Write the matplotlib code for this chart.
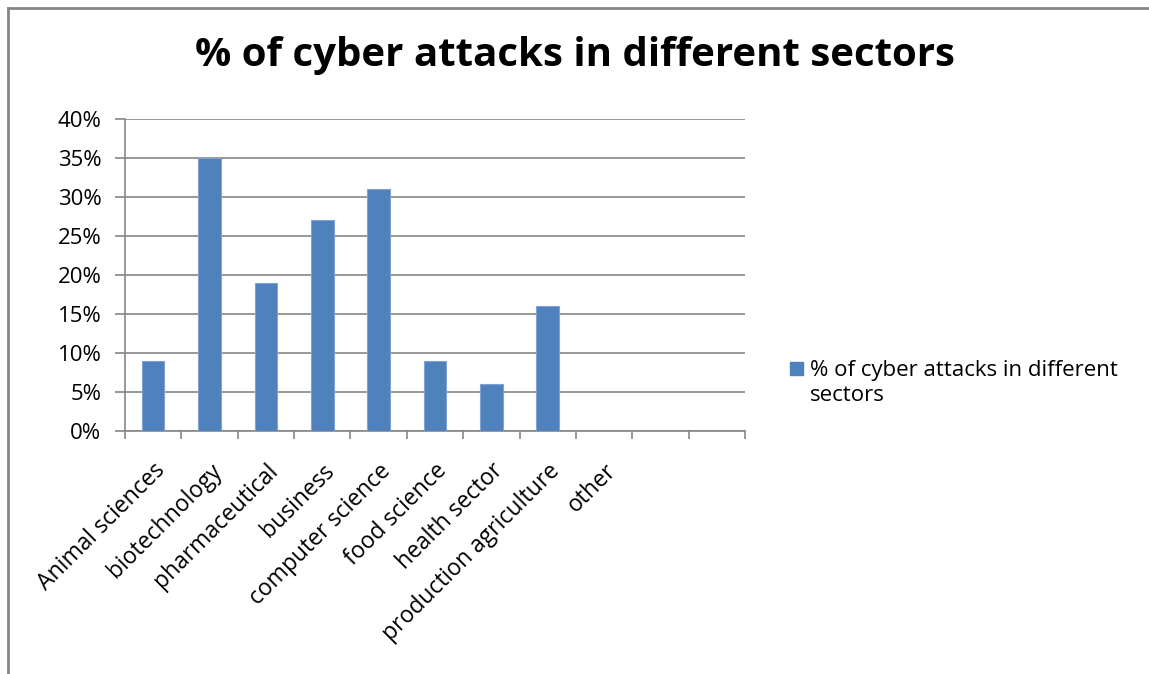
import matplotlib.pyplot as plt
from matplotlib.lines import Line2D
from matplotlib.ticker import FuncFormatter

categories = ["Animal sciences", "biotechnology", "pharmaceutical", "business",
              "computer science", "food science", "health sector",
              "production agriculture", "other", "", ""]
values = [9, 35, 19, 27, 31, 9, 6, 16, 0, 0, 0]
series_name = "% of cyber attacks in different\nsectors"
title = "% of cyber attacks in different sectors"

plt.rcParams['font.family'] = ['Open Sans', 'DejaVu Sans']

fig = plt.figure(figsize=(11.49, 6.74), dpi=100)
ax = fig.add_axes([0.1088, 0.3605, 0.5396, 0.4629])

x = range(len(categories))
ax.bar(x, values, width=0.4, color='#4F81BD', edgecolor='#7EA3D4',
       linewidth=0.8, zorder=3)

ax.set_xlim(-0.5, len(categories) - 0.5)
ax.set_ylim(0, 40)
ax.set_yticks(range(0, 41, 5))
ax.yaxis.set_major_formatter(FuncFormatter(lambda v, p: f"{v:.0f}%"))
ax.yaxis.grid(True, color='#868686', linewidth=1.2, zorder=0)

ax.set_xticks([i - 0.5 for i in range(len(categories) + 1)])
ax.set_xticklabels([])
ax.set_xticks(list(x), minor=True)
ax.set_xticklabels(categories, minor=True, rotation=45, ha='right',
                   rotation_mode='anchor', fontsize=16.5)
ax.tick_params(axis='x', which='minor', length=0, pad=20)
ax.tick_params(axis='x', which='major', length=6, color='#868686', width=1.2)
ax.tick_params(axis='y', length=7, color='#868686', width=1.2, labelsize=16, pad=10)

for s in ['top', 'right']:
    ax.spines[s].set_visible(False)
for s in ['left', 'bottom']:
    ax.spines[s].set_color('#868686')
    ax.spines[s].set_linewidth(1.2)

fig.text(0.5, 0.918, title, ha='center', va='center', fontsize=29,
         fontweight='bold')

# legend
fig.patches.append(plt.Rectangle((790 / 1149, 1 - 375 / 674), 13 / 1149, 13 / 674,
                                 transform=fig.transFigure, color='#4F81BD'))
fig.text(810 / 1149, 1 - 383 / 674, series_name, ha='left', va='center',
         fontsize=16, linespacing=1.3)

# chart frame
fig.lines.append(Line2D([8 / 1149, 1], [1 - 8 / 674] * 2, transform=fig.transFigure,
                        color='#868686', linewidth=2))
fig.lines.append(Line2D([8 / 1149] * 2, [1 - 8 / 674, 0], transform=fig.transFigure,
                        color='#868686', linewidth=2))

plt.savefig('out.png', dpi=100)
plt.close(fig)
